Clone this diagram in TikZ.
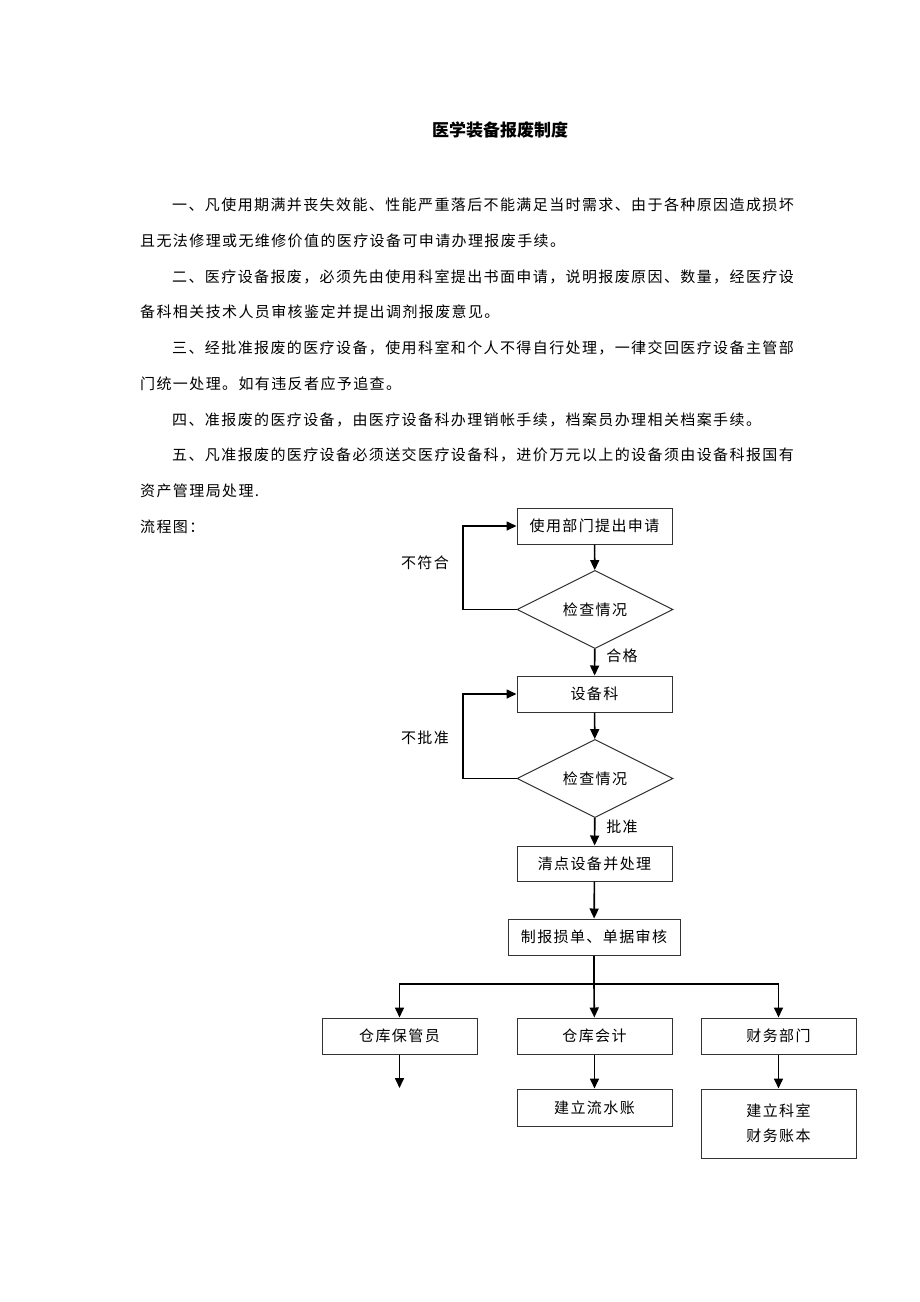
\documentclass[tikz,border=0pt]{standalone}
\usepackage{fontspec}
\usetikzlibrary{shapes.geometric,arrows.meta}
\newfontfamily\cjk[LetterSpace=9.3]{Noto Sans CJK SC}
\newfontfamily\cjkhead{Noto Sans CJK SC}
\newcommand{\bodyfont}{\cjk\fontsize{15}{25}\selectfont}
\begin{document}
\begin{tikzpicture}[x=1pt,y=-1pt,
    txt/.style={anchor=west,inner sep=0pt,font=\bodyfont},
    box/.style={draw=black!80,line width=1pt,minimum width=155pt,minimum height=36pt,inner sep=0pt,font=\bodyfont},
    chk/.style={diamond,draw=black!80,line width=1pt,minimum width=156pt,minimum height=57pt,inner sep=0pt,font=\bodyfont},
    lbl/.style={inner sep=0pt,font=\bodyfont},
    go/.style={line width=1.6pt,-{Triangle[length=10pt,width=9pt]}}]
  \useasboundingbox (0,0) rectangle (920,1302);
  % heading and rules
  \node[inner sep=0pt,font=\cjkhead\bfseries\fontsize{17}{20}\selectfont] (title) at (500,130) {医学装备报废制度};
  \node[txt] (r1) at (172,205) {一、凡使用期满并丧失效能、性能严重落后不能满足当时需求、由于各种原因造成损坏};
  \node[txt] (r1b) at (140,241) {且无法修理或无维修价值的医疗设备可申请办理报废手续。};
  \node[txt] (r2) at (172,277) {二、医疗设备报废，必须先由使用科室提出书面申请，说明报废原因、数量，经医疗设};
  \node[txt] (r2b) at (140,312) {备科相关技术人员审核鉴定并提出调剂报废意见。};
  \node[txt] (r3) at (172,348) {三、经批准报废的医疗设备，使用科室和个人不得自行处理，一律交回医疗设备主管部};
  \node[txt] (r3b) at (140,384) {门统一处理。如有违反者应予追查。};
  \node[txt] (r4) at (172,420) {四、准报废的医疗设备，由医疗设备科办理销帐手续，档案员办理相关档案手续。};
  \node[txt] (r5) at (172,455) {五、凡准报废的医疗设备必须送交医疗设备科，进价万元以上的设备须由设备科报国有};
  \node[txt] (r5b) at (140,491) {资产管理局处理.};
  \node[txt] (flow) at (140,527) {流程图：};
  % flow chart
  \node[box] (req) at (594.5,526) {使用部门提出申请};
  \node[chk] (chk1) at (595,609.5) {检查情况};
  \node[box] (dept) at (594.5,694) {设备科};
  \node[chk] (chk2) at (595,778.5) {检查情况};
  \node[box,minimum height=35pt] (count) at (594.5,863.5) {清点设备并处理};
  \node[box,minimum width=172pt] (form) at (594,937) {制报损单、单据审核};
  \node[box] (keeper) at (399.5,1036) {仓库保管员};
  \node[box] (acct) at (594.5,1036) {仓库会计};
  \node[box] (fin) at (778.5,1036) {财务部门};
  \node[box,minimum height=37pt] (ledger) at (594.5,1107.5) {建立流水账};
  \node[box,minimum height=69pt,align=center] (book) at (778.5,1123.5) {建立科室\\财务账本};
  \node[lbl] (no1) at (425,563) {不符合};
  \node[lbl] (ok1) at (622,656) {合格};
  \node[lbl] (no2) at (425,738) {不批准};
  \node[lbl] (ok2) at (622,827) {批准};
  \coordinate (loop1) at (463,609.5);
  \coordinate (loop2) at (463,778.5);
  \coordinate (split) at (594,984);
  \coordinate (keepend) at (399.5,1088);
  \begin{scope}[go]
    \draw (req) -- (chk1);
    \draw (chk1) -- (dept);
    \draw (chk1.west) -- (loop1) |- (req.west);
    \draw (dept) -- (chk2);
    \draw (chk2) -- (count);
    \draw (chk2.west) -- (loop2) |- (dept.west);
    \draw (count) -- (form);
    \draw[-] (form) -- (split);
    \draw (split) -| (keeper.north);
    \draw (split) -- (acct);
    \draw (split) -| (fin.north);
    \draw (keeper) -- (keepend);
    \draw (acct) -- (ledger);
    \draw (fin) -- (book);
  \end{scope}
\end{tikzpicture}
\end{document}
